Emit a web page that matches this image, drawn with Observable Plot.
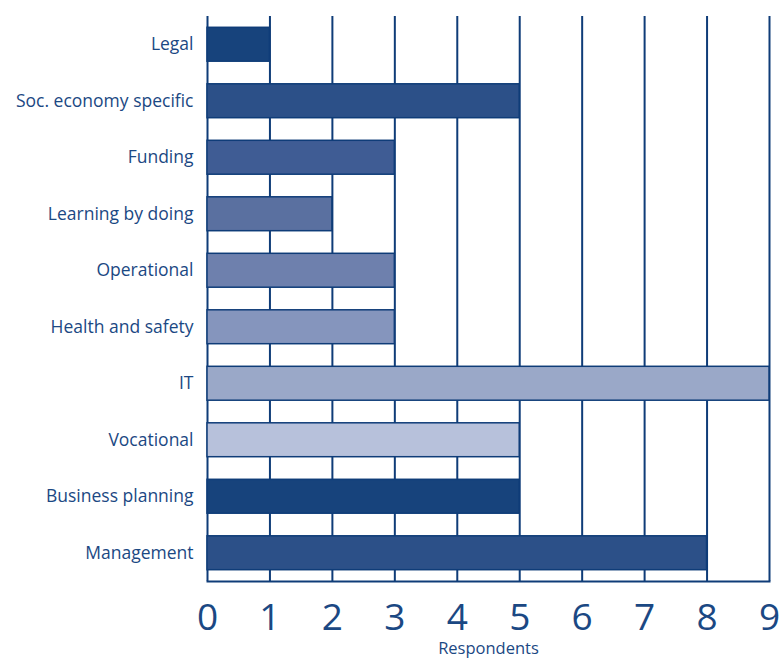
<!DOCTYPE html>
<html><head><meta charset="utf-8">
<script src="https://cdn.jsdelivr.net/npm/d3@7"></script>
<script src="https://cdn.jsdelivr.net/npm/@observablehq/plot@0.6"></script>
<style>
body{margin:0;background:#fff;}
#chart{position:relative;width:781px;height:659px;}
</style>
</head><body><div id="chart"></div>
<script>
const categories = ["Legal","Soc. economy specific","Funding","Learning by doing","Operational","Health and safety","IT","Vocational","Business planning","Management"];
const respondents = [1,5,3,2,3,3,9,5,5,8];
const barColors = ["#17437c","#2c5088","#3f5c94","#5a70a0","#6e80ad","#8595bd","#9aa8c8","#b7c1db","#17437c","#2c5088"];
const xTicks = [0,1,2,3,4,5,6,7,8,9];
const xLabel = "Respondents";

const data = categories.map((c,i)=>({category:c, value:respondents[i]}));
const navy = "#0f3c78";

const plot = Plot.plot({
  width: 781, height: 659,
  marginLeft: 207, marginRight: 12, marginTop: 16, marginBottom: 78,
  style: {fontFamily: "'Open Sans', sans-serif", color: "#1b4883", background: "#fff"},
  x: {domain: [0,9], ticks: xTicks},
  y: {domain: categories, paddingInner: 0.4, paddingOuter: 0.2, round: false},
  color: {type: "ordinal", domain: categories, range: barColors},
  marks: [
    Plot.ruleX(xTicks, {stroke: navy, strokeWidth: 2}),
    Plot.frame({anchor: "bottom", stroke: navy, strokeWidth: 2}),
    Plot.barX(data, {y: "category", x: "value", fill: "category", stroke: navy, strokeWidth: 1.5}),
    Plot.axisX({ticks: xTicks, tickSize: 0, tickPadding: 22, fontSize: 37, label: null, tickFormat: d3.format("d")}),
    Plot.axisY({tickSize: 0, tickPadding: 14, fontSize: 17.5, label: null}),
    Plot.text([xLabel], {frameAnchor: "bottom", dy: 67, lineAnchor: "middle", fontSize: 16.5, text: d => d, fill: "#1b4883"})
  ]
});
document.getElementById("chart").appendChild(plot);
</script></body></html>
